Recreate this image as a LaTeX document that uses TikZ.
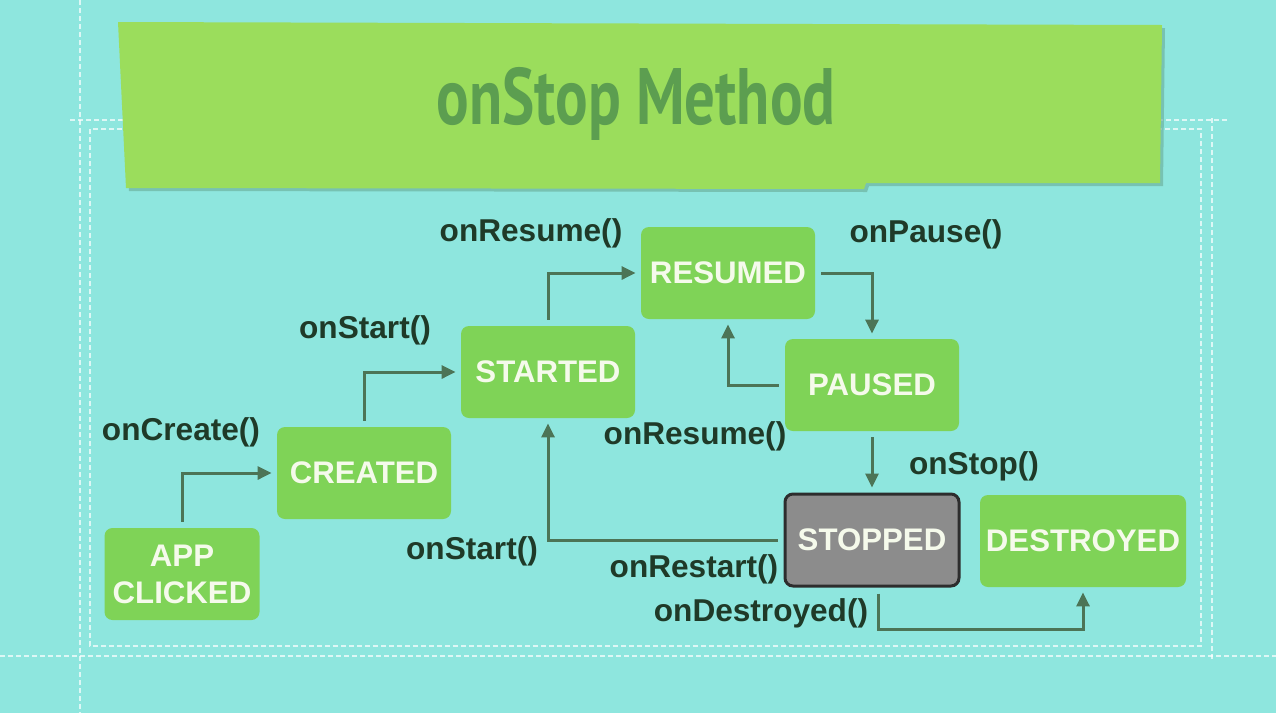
\documentclass[tikz,border=0pt]{standalone}
\usepackage{fontspec}
\setmainfont{Liberation Sans}
\newfontfamily\titlefont{PT Sans}
\usetikzlibrary{arrows.meta}

\definecolor{bgteal}{RGB}{142,230,222}
\definecolor{bannergreen}{RGB}{155,221,92}
\definecolor{bannershade}{RGB}{104,170,150}
\definecolor{titlegreen}{RGB}{92,158,80}
\definecolor{boxgreen}{RGB}{127,211,87}
\definecolor{boxtext}{RGB}{245,250,235}
\definecolor{arrowgreen}{RGB}{76,116,86}
\definecolor{textdark}{RGB}{31,58,40}
\definecolor{stopgray}{RGB}{140,140,140}
\definecolor{stopedge}{RGB}{45,45,45}

\begin{document}
\begin{tikzpicture}[x=0.5pt,y=-0.5pt,
    state/.style={rectangle, rounded corners=4pt, fill=boxgreen, text=boxtext,
        font=\bfseries\fontsize{15.6}{18.5}\selectfont, align=center,
        minimum width=87pt, minimum height=46pt, inner sep=0pt},
    method/.style={text=textdark, font=\bfseries\fontsize{15.8}{18}\selectfont, inner sep=0pt},
    flow/.style={draw=arrowgreen, line width=1.5pt, -{Triangle[length=7pt,width=6.5pt]},
        shorten <=3pt, shorten >=2.5pt},
    guide/.style={white, opacity=0.7, line width=0.8pt, dash pattern=on 2.5pt off 1.5pt}]

    % Background
    \fill[bgteal] (0,0) rectangle (1276,713);
    \useasboundingbox (0,0) rectangle (1276,713);

    % Dashed frame
    \draw[guide] (80,0) -- (80,713);
    \draw[guide] (0,656) -- (1276,656);
    \draw[guide] (1212,118) -- (1212,662);
    \draw[guide] (70,120) -- (1230,120);
    \draw[guide] (90,129) rectangle (1201,646);

    % Title banner
    \fill[bannershade, opacity=0.6] (121,26) -- (1165,28) -- (1163,186) -- (869,186)
        -- (867,192) -- (129,191) -- cycle;
    \fill[bannergreen] (118,22) -- (1162,25) -- (1160,183) -- (866,183)
        -- (864,189) -- (126,188) -- cycle;
    \node[text=titlegreen, font=\titlefont\bfseries\fontsize{40}{41}\selectfont]
        (title) at (636,104) {\scalebox{0.76}[1]{onStop Method}};

    % States
    \node[state, minimum width=77.5pt] (app) at (182,574) {APP\\CLICKED};
    \node[state] (created) at (364,473) {CREATED};
    \node[state] (started) at (548,372) {STARTED};
    \node[state] (resumed) at (728,273) {RESUMED};
    \node[state] (paused) at (872,385) {PAUSED};
    \node[state, fill=stopgray, draw=stopedge, line width=1.5pt] (stopped) at (872,540) {STOPPED};
    \node[state, minimum width=103pt] (destroyed) at (1083,541) {DESTROYED};

    % Transitions
    \draw[flow] (app.north) |- (created.west);
    \draw[flow] (created.north) |- (started.west);
    \draw[flow] (started.north) |- (resumed.west);
    \draw[flow] (resumed.east) -| (paused.north);
    \draw[flow] (paused.west) -| (resumed.south);
    \draw[flow] (paused.south) -- (stopped.north);
    \draw[flow] (stopped.west) -| (started.south);
    \draw[flow] ([xshift=3pt]stopped.south) -- ++(0,42) -| (destroyed.south);

    % Method names
    \node[method] (m-create) at (181,432) {onCreate()};
    \node[method] (m-start) at (365,330) {onStart()};
    \node[method] (m-resume) at (531,233) {onResume()};
    \node[method] (m-pause) at (926,234) {onPause()};
    \node[method] (m-resume2) at (695,436) {onResume()};
    \node[method] (m-stop) at (974,466) {onStop()};
    \node[method] (m-start2) at (472,551) {onStart()};
    \node[method] (m-restart) at (694,569) {onRestart()};
    \node[method] (m-destroy) at (761,613) {onDestroyed()};

\end{tikzpicture}
\end{document}
